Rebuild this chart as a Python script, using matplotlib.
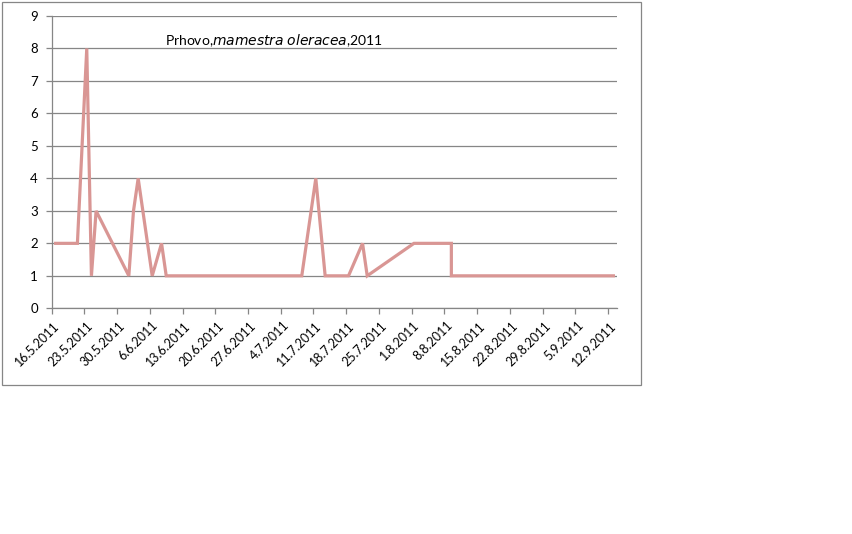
import matplotlib
matplotlib.use("Agg")
import matplotlib.pyplot as plt
import matplotlib.dates as mdates
import matplotlib.transforms as mtransforms
from matplotlib.patches import Rectangle
from datetime import datetime, timedelta

plt.rcParams['font.family'] = ['Lato', 'DejaVu Sans']

# data
dates = ["16.5.2011", "21.5.2011", "23.5.2011", "24.5.2011", "25.5.2011",
         "1.6.2011", "2.6.2011", "3.6.2011", "6.6.2011", "8.6.2011", "9.6.2011",
         "8.7.2011", "11.7.2011", "13.7.2011", "18.7.2011", "21.7.2011", "22.7.2011",
         "1.8.2011", "9.8.2011", "9.8.2011", "13.9.2011"]
values = [2, 2, 8, 1, 3, 1, 3, 4, 1, 2, 1, 1, 4, 1, 1, 2, 1, 2, 2, 1, 1]
tick_labels = ["16.5.2011", "23.5.2011", "30.5.2011", "6.6.2011", "13.6.2011",
               "20.6.2011", "27.6.2011", "4.7.2011", "11.7.2011", "18.7.2011",
               "25.7.2011", "1.8.2011", "8.8.2011", "15.8.2011", "22.8.2011",
               "29.8.2011", "5.9.2011", "12.9.2011"]
x_start = "16.5.2011"
x_end = "14.9.2011"
y_ticks = [0, 1, 2, 3, 4, 5, 6, 7, 8, 9]

def parse(s):
    return datetime.strptime(s, "%d.%m.%Y")

W, H = 852, 534
fig = plt.figure(figsize=(W / 100, H / 100), dpi=100)
fig.patch.set_facecolor("white")

# chart border
fig.patches.append(Rectangle((1.5 / W, (H - 385) / H), 639.5 / W, (385 - 1.5) / H,
                             transform=fig.transFigure, fill=False,
                             edgecolor="#868686", linewidth=0.9))

ax = fig.add_axes([51.7 / W, (H - 308.3) / H, (617.3 - 51.7) / W, (308.3 - 16) / H])

# Excel "between tick marks": points at the middle of each day
xs = [mdates.date2num(parse(d) + timedelta(hours=12)) for d in dates]
ax.plot(xs, values, color="#d99694", linewidth=2.3, solid_joinstyle="miter",
        solid_capstyle="butt", zorder=3)

ax.set_xlim(mdates.date2num(parse(x_start)), mdates.date2num(parse(x_end)))
ax.set_ylim(0, 9)
ax.set_yticks(y_ticks)
ax.set_yticklabels([str(v) for v in y_ticks])
ax.set_xticks([mdates.date2num(parse(t)) for t in tick_labels])
ax.set_xticklabels(tick_labels, rotation=45, ha="right", va="center",
                   rotation_mode="anchor")

for s in ["top", "right"]:
    ax.spines[s].set_visible(False)
for s in ["left", "bottom"]:
    ax.spines[s].set_color("#868686")
    ax.spines[s].set_linewidth(0.9)
ax.grid(axis="y", color="#868686", linewidth=0.9, zorder=1)
ax.set_axisbelow(True)
ax.tick_params(axis="both", direction="out", length=4, width=0.9, color="#868686",
               labelsize=9.5, labelcolor="black")
ax.tick_params(axis="y", pad=6)
ax.tick_params(axis="x", pad=7, labelsize=9)

offset = mtransforms.ScaledTranslation(6 / 100, 0, fig.dpi_scale_trans)
for lbl in ax.get_xticklabels():
    lbl.set_transform(lbl.get_transform() + offset)

ax.text(0.2, 0.915, r"Prhovo,$\it{mamestra}$ $\it{oleracea}$,2011",
        transform=ax.transAxes, fontsize=10, ha="left", va="center")

fig.savefig("out.png", dpi=100)
